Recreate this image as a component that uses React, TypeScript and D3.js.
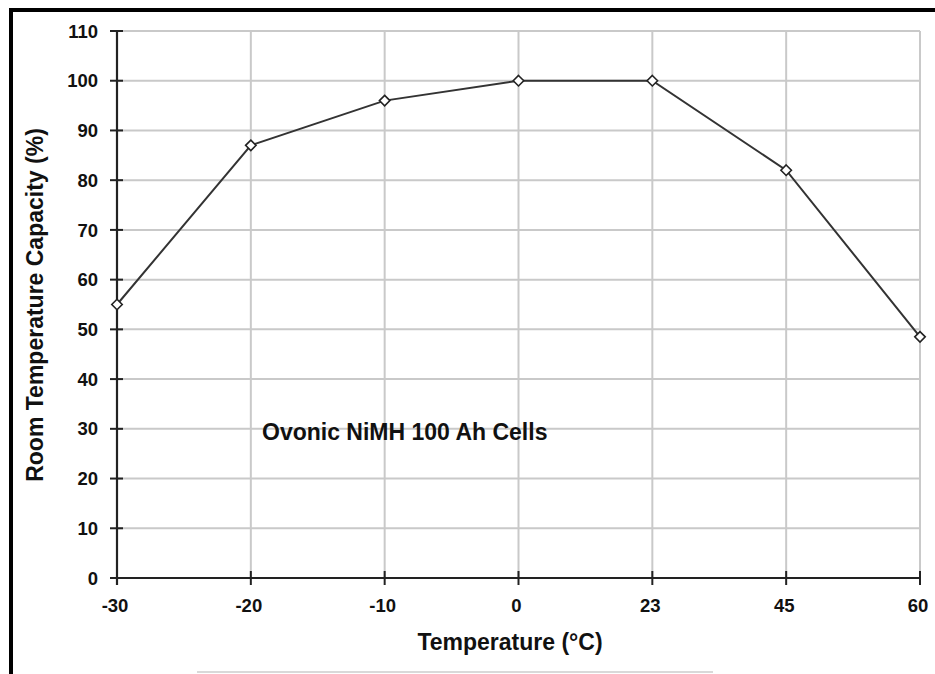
import React from "react";
import * as d3 from "d3";

const categories: string[] = ["-30", "-20", "-10", "0", "23", "45", "60"];
const capacity: number[] = [55, 87, 96, 100, 100, 82, 48.5];
const yTicks: number[] = [0, 10, 20, 30, 40, 50, 60, 70, 80, 90, 100, 110];
const yTitle = "Room Temperature Capacity (%)";
const xTitle = "Temperature (°C)";
const annotation = "Ovonic NiMH 100 Ah Cells";

const W = 935;
const H = 674;
const left = 117;
const right = 920;
const top = 31;
const bottom = 578;
const FONT = "'Liberation Sans', Arial, Helvetica, sans-serif";

export default function App() {
  const x = d3.scalePoint<string>().domain(categories).range([left, right]);
  const y = d3.scaleLinear().domain([0, 110]).range([bottom, top]);
  const line = d3
    .line<number>()
    .x((_, i) => x(categories[i]) as number)
    .y((d) => y(d));
  const diamond = d3.symbol().type(d3.symbolDiamond2).size(70)() as string;

  return (
    <svg
      width={W}
      height={H}
      style={{ position: "absolute", left: 0, top: 0, background: "#fff" }}
      fontFamily={FONT}
    >
      <rect x={0} y={0} width={W} height={H} fill="#fff" />
      {/* frame */}
      <line x1={9} x2={W} y1={10} y2={10} stroke="#000" strokeWidth={4} />
      <line x1={11} x2={11} y1={8} y2={H} stroke="#000" strokeWidth={4} />
      <line x1={197} x2={713} y1={672} y2={672} stroke="#ccc" strokeWidth={1.5} />

      {/* horizontal gridlines */}
      {yTicks
        .filter((t) => t > 0)
        .map((t) => (
          <line
            key={"h" + t}
            x1={left}
            x2={right}
            y1={y(t)}
            y2={y(t)}
            stroke="#c9c9c9"
            strokeWidth={2}
          />
        ))}
      {/* vertical gridlines */}
      {categories.slice(1).map((c) => (
        <line
          key={"v" + c}
          x1={x(c)}
          x2={x(c)}
          y1={top}
          y2={bottom}
          stroke="#c9c9c9"
          strokeWidth={2}
        />
      ))}

      {/* axes */}
      <line x1={left} x2={left} y1={top} y2={bottom + 7} stroke="#222" strokeWidth={2.2} />
      <line x1={left - 6} x2={right} y1={bottom} y2={bottom} stroke="#222" strokeWidth={2.2} />
      {yTicks.map((t) => (
        <g key={"yt" + t}>
          <line x1={left - 7} x2={left + 6} y1={y(t)} y2={y(t)} stroke="#222" strokeWidth={2} />
          <text
            x={98}
            y={y(t)}
            dy="0.36em"
            textAnchor="end"
            fontSize={18.5}
            fontWeight="bold"
            fill="#111"
          >
            {t}
          </text>
        </g>
      ))}
      {categories.map((c) => (
        <g key={"xt" + c}>
          <line
            x1={x(c)}
            x2={x(c)}
            y1={bottom - 7}
            y2={bottom + 7}
            stroke="#222"
            strokeWidth={2}
          />
          <text
            x={(x(c) as number) - 2}
            y={612}
            textAnchor="middle"
            fontSize={18.5}
            fontWeight="bold"
            fill="#111"
          >
            {c}
          </text>
        </g>
      ))}

      {/* series */}
      <path d={line(capacity) as string} fill="none" stroke="#333" strokeWidth={2} />
      {capacity.map((v, i) => (
        <path
          key={"m" + i}
          d={diamond}
          transform={`translate(${x(categories[i])},${y(v)})`}
          fill="#fff"
          stroke="#222"
          strokeWidth={1.6}
        />
      ))}

      {/* titles */}
      <text
        x={510}
        y={650}
        textAnchor="middle"
        fontSize={23}
        fontWeight="bold"
        fill="#111"
      >
        {xTitle}
      </text>
      <text
        transform={`translate(43,305) rotate(-90)`}
        textAnchor="middle"
        fontSize={23}
        fontWeight="bold"
        fill="#111"
      >
        {yTitle}
      </text>
      <text x={262} y={440} fontSize={23} fontWeight="bold" fill="#111">
        {annotation}
      </text>
    </svg>
  );
}
